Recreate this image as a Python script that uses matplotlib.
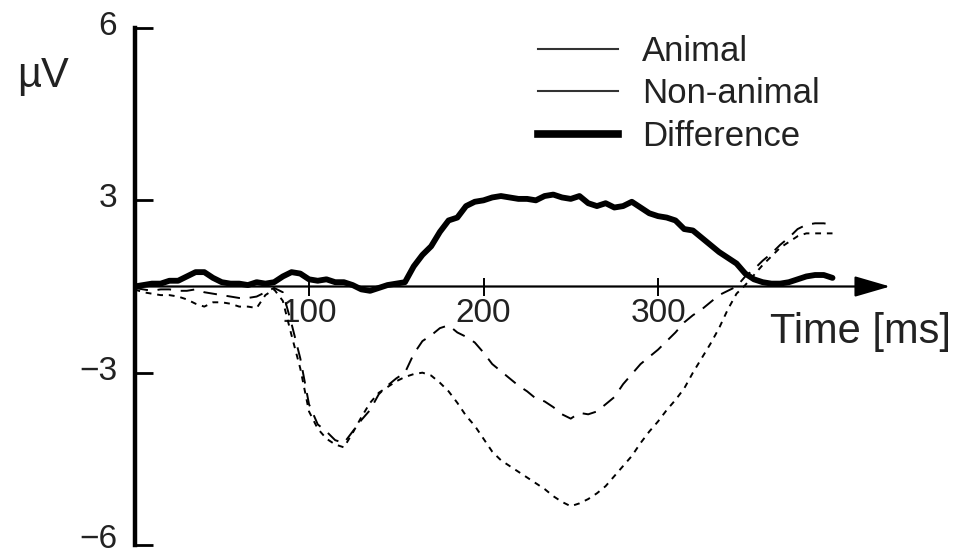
#!/usr/bin/env python3
# -*- coding: utf-8 -*-
"""
ERP curves (Animal / Non-animal / Difference) redrawn with matplotlib.
Saves out.png (958x557).
"""

import matplotlib
matplotlib.use('Agg')
import matplotlib.pyplot as plt
from matplotlib.lines import Line2D
from matplotlib.transforms import ScaledTranslation

plt.rcParams['font.family'] = ['Liberation Sans', 'DejaVu Sans']

# --- data (µV, every 5 ms) ---
TIEMPO = [0, 5, 10, 15, 20, 25, 30, 35, 40, 45,
          50, 55, 60, 65, 70, 75, 80, 85, 90, 95,
          100, 105, 110, 115, 120, 125, 130, 135, 140, 145,
          150, 155, 160, 165, 170, 175, 180, 185, 190, 195,
          200, 205, 210, 215, 220, 225, 230, 235, 240, 245,
          250, 255, 260, 265, 270, 275, 280, 285, 290, 295,
          300, 305, 310, 315, 320, 325, 330, 335, 340, 345,
          350, 355, 360, 365, 370, 375, 380, 385, 390, 395,
          400]

ANIMAL = [-0.05, -0.1, -0.15, -0.1, -0.1, -0.15, -0.15, -0.1, -0.2, -0.25,
          -0.3, -0.35, -0.4, -0.4, -0.35, -0.2, -0.05, -0.2, -1.3, -2.5,
          -4.1, -4.8, -5.05, -5.35, -5.45, -5.05, -4.65, -4.3, -3.75, -3.45,
          -3.2, -3.0, -2.35, -1.9, -1.7, -1.45, -1.35, -1.6, -1.75, -1.95,
          -2.3, -2.7, -2.95, -3.2, -3.45, -3.65, -3.9, -4.0, -4.2, -4.45,
          -4.6, -4.4, -4.45, -4.35, -4.1, -3.85, -3.4, -3.05, -2.7, -2.45,
          -2.2, -1.9, -1.6, -1.25, -1.0, -0.8, -0.55, -0.3, -0.15, 0.0,
          0.35, 0.6, 0.9, 1.15, 1.45, 1.7, 2.0, 2.15, 2.2, 2.2,
          2.15]

NO_ANIMAL = [-0.1, -0.2, -0.25, -0.3, -0.3, -0.35, -0.45, -0.6, -0.7, -0.55,
             -0.55, -0.6, -0.7, -0.7, -0.75, -0.3, -0.1, -0.5, -1.7, -2.85,
             -4.35, -4.95, -5.3, -5.5, -5.6, -5.1, -4.55, -4.05, -3.7, -3.5,
             -3.3, -3.15, -3.05, -3.0, -3.1, -3.35, -3.65, -4.05, -4.5, -4.85,
             -5.3, -5.75, -6.05, -6.25, -6.45, -6.65, -6.85, -7.05, -7.3, -7.5,
             -7.65, -7.55, -7.4, -7.2, -6.95, -6.6, -6.25, -5.9, -5.45, -5.05,
             -4.7, -4.3, -3.95, -3.55, -3.0, -2.5, -2.0, -1.45, -0.8, -0.25,
             0.05, 0.4, 0.75, 1.05, 1.35, 1.55, 1.75, 1.85, 1.85, 1.85,
             1.85]

DIFERENCIA = [0.0, 0.05, 0.1, 0.1, 0.2, 0.2, 0.35, 0.5, 0.5, 0.3,
              0.15, 0.1, 0.1, 0.05, 0.15, 0.1, 0.15, 0.35, 0.5, 0.45,
              0.25, 0.2, 0.25, 0.15, 0.15, 0.05, -0.1, -0.15, -0.05, 0.05,
              0.1, 0.15, 0.7, 1.1, 1.4, 1.9, 2.3, 2.4, 2.8, 2.95,
              3.0, 3.1, 3.15, 3.1, 3.05, 3.05, 3.0, 3.15, 3.2, 3.1,
              3.05, 3.15, 2.9, 2.8, 2.9, 2.75, 2.8, 2.95, 2.75, 2.55,
              2.45, 2.4, 2.3, 2.0, 1.95, 1.7, 1.45, 1.2, 1.0, 0.8,
              0.45, 0.25, 0.15, 0.1, 0.1, 0.15, 0.25, 0.35, 0.4, 0.4,
              0.3]

# the original axis is labelled 6 / 3 / -3 / -6, but the outer ticks sit
# twice as far out as the inner ones
Y_TICKS = [9, 3, -3, -9]
Y_TICK_LABELS = ['6', '3', '\u22123', '\u22126']
X_TICKS = [100, 200, 300]
LEYENDA = ['Animal', 'Non-animal', 'Difference']

TXT = '#222222'


def main():
    fig = plt.figure(figsize=(9.58, 5.57), dpi=100)
    ax = fig.add_axes([134.5 / 958, 12 / 557, 767.8 / 958, 517 / 557])

    ax.plot(TIEMPO, ANIMAL, color='black', lw=1.4, linestyle=(0, (7, 5)))
    ax.plot(TIEMPO, NO_ANIMAL, color='black', lw=1.4, linestyle=(0, (3, 3)))
    ax.plot(TIEMPO, DIFERENCIA, color='black', lw=4.2, solid_capstyle='round',
            solid_joinstyle='round')

    ax.set_xlim(0, 440)
    ax.set_ylim(-9, 9)

    # axes look
    for s in ('top', 'right'):
        ax.spines[s].set_visible(False)
    ax.spines['left'].set_linewidth(3.2)
    ax.spines['bottom'].set_position(('data', 0))
    ax.spines['bottom'].set_visible(False)

    # x axis with arrow head
    ax.annotate('', xy=(433, 0), xytext=(0, 0),
                arrowprops=dict(arrowstyle='-|>,head_length=1.1,head_width=0.32',
                                lw=1.6, color='black', shrinkA=0, shrinkB=0,
                                mutation_scale=20))

    ax.set_yticks(Y_TICKS)
    ax.set_yticklabels(Y_TICK_LABELS)
    ax.tick_params(axis='y', direction='in', length=13, width=2, pad=12.5,
                   labelsize=24, labelcolor=TXT)
    # labels sit a little above their ticks in the original
    etiquetas = ax.get_yticklabels()
    for i, lab in enumerate(etiquetas):
        dy = 6.5 if i == len(etiquetas) - 1 else 3.5  # keep -6 inside
        lab.set_transform(lab.get_transform() +
                          ScaledTranslation(0, dy / 72, fig.dpi_scale_trans))

    ax.set_xticks(X_TICKS)
    ax.set_xticklabels([str(t) for t in X_TICKS])
    ax.tick_params(axis='x', direction='inout', length=13, width=1.4, pad=1.5,
                   labelsize=24, labelcolor=TXT)

    ax.set_xlabel('Time [ms]', fontsize=30, color=TXT, ha='left', va='baseline')
    ax.xaxis.set_label_coords(364, -1.98, transform=ax.transData)
    ax.set_ylabel('\u00b5V', fontsize=30, color=TXT, rotation=0,
                  ha='left', va='baseline')
    ax.yaxis.set_label_coords(-67.5, 6.95, transform=ax.transData)

    # legend: original shows plain solid strokes
    handles = [Line2D([], [], color='#333333', lw=1.5),
               Line2D([], [], color='#333333', lw=1.5),
               Line2D([], [], color='black', lw=5.5)]
    ax.legend(handles, LEYENDA, loc='upper left',
              bbox_to_anchor=(538 / 958, 1 - 35 / 557),
              bbox_transform=fig.transFigure, frameon=False, fontsize=25,
              borderpad=0, borderaxespad=0, handlelength=2.3,
              handletextpad=0.7, labelspacing=0.27, labelcolor=TXT)

    fig.savefig('out.png', dpi=100)


if __name__ == '__main__':
    main()
